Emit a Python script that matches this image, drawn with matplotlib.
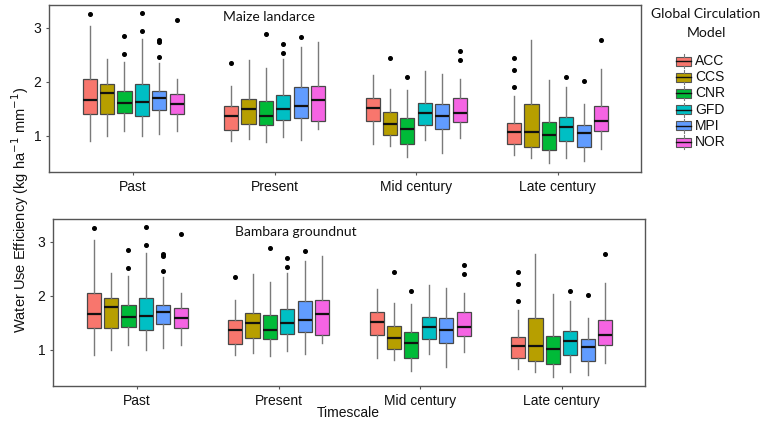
import matplotlib
matplotlib.use("Agg")
import matplotlib.pyplot as plt
from matplotlib.patches import Rectangle
from matplotlib.lines import Line2D

timescales = ["Past", "Present", "Mid century", "Late century"]
models = ["ACC", "CCS", "CNR", "GFD", "MPI", "NOR"]
colors = ["#F8766D", "#B79F00", "#00BA38", "#00BFC4", "#619CFF", "#F564E3"]

# per timescale, per model: [whislo, q1, med, q3, whishi]
past = [
    [0.90, 1.40, 1.67, 2.06, 3.04],
    [0.99, 1.40, 1.79, 1.96, 2.42],
    [1.08, 1.43, 1.60, 1.83, 2.36],
    [1.00, 1.36, 1.63, 1.96, 2.80],
    [1.03, 1.48, 1.69, 1.83, 2.35],
    [1.09, 1.41, 1.59, 1.78, 2.06],
]
present = [
    [0.90, 1.10, 1.36, 1.56, 1.92],
    [0.94, 1.21, 1.49, 1.68, 2.40],
    [0.88, 1.20, 1.36, 1.64, 2.25],
    [0.98, 1.29, 1.49, 1.76, 2.42],
    [0.92, 1.33, 1.55, 1.90, 2.65],
    [1.13, 1.27, 1.67, 1.92, 2.73],
]
mid = [
    [0.85, 1.27, 1.52, 1.69, 2.12],
    [0.82, 1.01, 1.21, 1.44, 1.86],
    [0.60, 0.85, 1.13, 1.33, 1.85],
    [0.92, 1.20, 1.42, 1.60, 2.19],
    [0.69, 1.12, 1.37, 1.59, 2.15],
    [0.95, 1.25, 1.42, 1.69, 2.05],
]
late = [
    [0.65, 0.85, 1.07, 1.23, 1.73],
    [0.58, 0.80, 1.07, 1.59, 2.78],
    [0.49, 0.73, 1.02, 1.25, 2.03],
    [0.59, 0.91, 1.17, 1.34, 1.90],
    [0.53, 0.80, 1.06, 1.20, 1.59],
    [0.75, 1.08, 1.27, 1.55, 2.24],
]
outliers_past = [[3.26], [], [2.84, 2.51], [3.28, 2.93], [2.78, 2.73, 2.45], [3.14]]
outliers_present = [[2.34], [], [2.88], [2.70, 2.54], [2.83], []]
outliers_mid = [[], [2.44], [2.09], [], [], [2.57, 2.40]]
outliers_late = [[2.44, 2.21, 1.90], [], [], [2.09], [2.02], [2.78]]

stats_all = [past, present, mid, late]
outl_all = [outliers_past, outliers_present, outliers_mid, outliers_late]
panel_titles = ["Maize landarce", "Bambara groundnut"]

W, H = 768, 425
fig = plt.figure(figsize=(W / 100, H / 100), dpi=100)
fig.patch.set_facecolor("white")

tickfont = "Liberation Sans"
calfont = "Lato"

axes_px = [(49, 5, 641, 172), (53, 219, 645, 386)]
title_xy = [(269, 17), (296, 232)]

for k, (l, t, r, b) in enumerate(axes_px):
    ax = fig.add_axes([l / W, 1 - b / H, (r - l) / W, (b - t) / H])
    for i, grp in enumerate(stats_all):
        for j, s in enumerate(grp):
            pos = (i + 1) + (j - 2.5) * 0.123
            st = dict(whislo=s[0], q1=s[1], med=s[2], q3=s[3], whishi=s[4],
                      fliers=outl_all[i][j])
            ax.bxp([st], positions=[pos], widths=0.1, patch_artist=True,
                   showcaps=False,
                   boxprops=dict(facecolor=colors[j], edgecolor="#484848", linewidth=0.9),
                   whiskerprops=dict(color="#7a7a7a", linewidth=1.0),
                   medianprops=dict(color="#111111", linewidth=1.6),
                   flierprops=dict(marker="o", markerfacecolor="black",
                                   markeredgecolor="black", markersize=2.6))
    ax.set_xlim(0.405, 4.59)
    ax.set_ylim(0.33, 3.42)
    ax.set_xticks([1, 2, 3, 4])
    ax.set_xticklabels(timescales, fontsize=10, family=tickfont, color="#111111")
    ax.set_yticks([1, 2, 3])
    ax.set_yticklabels(["1", "2", "3"], fontsize=10, family=tickfont, color="#111111")
    ax.tick_params(length=2.5, width=0.8, color="#555555", pad=3)
    for sp in ax.spines.values():
        sp.set_color("#555555")
        sp.set_linewidth(1.0)
    tx, ty = title_xy[k]
    fig.text(tx / W, 1 - ty / H, panel_titles[k], ha="center", va="center",
             fontsize=10, family=calfont, color="#111111")

fig.text(20 / W, 1 - 210 / H,
         "Water Use Efficiency (kg ha$^{-1}$ mm$^{-1}$)",
         rotation=90, ha="center", va="center", fontsize=10.5, family=tickfont,
         color="#111111")
fig.text(348 / W, 1 - 413 / H, "Timescale", ha="center", va="center",
         fontsize=10, family=tickfont, color="#111111")

# legend
fig.text(706 / W, 1 - 14 / H, "Global Circulation", ha="center", va="center",
         fontsize=10, family=calfont, color="#111111")
fig.text(706 / W, 1 - 33 / H, "Model", ha="center", va="center",
         fontsize=10, family=calfont, color="#111111")
for j, m in enumerate(models):
    cy = 61 + j * 16.2
    x0, x1 = 676, 691
    rect = Rectangle((x0 / W, 1 - (cy + 4.5) / H), (x1 - x0) / W, 9 / H,
                     transform=fig.transFigure, facecolor=colors[j],
                     edgecolor="#555555", linewidth=0.8)
    fig.add_artist(rect)
    xm = (x0 + x1) / 2
    for ya, yb in [(cy - 7, cy - 4.5), (cy + 4.5, cy + 7)]:
        fig.add_artist(Line2D([xm / W, xm / W], [1 - ya / H, 1 - yb / H],
                              transform=fig.transFigure, color="#7a7a7a", linewidth=0.8))
    fig.add_artist(Line2D([x0 / W, x1 / W], [1 - cy / H, 1 - cy / H],
                          transform=fig.transFigure, color="#111111", linewidth=1.0))
    fig.text(695 / W, 1 - cy / H, m, ha="left", va="center", fontsize=10,
             family=tickfont, color="#111111")

fig.savefig("out.png", dpi=100, facecolor="white")
